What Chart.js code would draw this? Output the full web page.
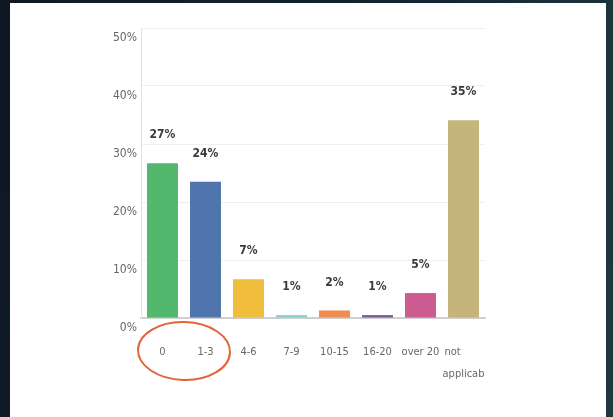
<!DOCTYPE html>
<html lang="en">
  <head>
    <meta charset="UTF-8" />
    <title>Bar chart</title>
    <script src="https://cdn.jsdelivr.net/npm/chart.js"></script>
    <style>
      html, body {
        margin: 0;
        padding: 0;
        width: 613px;
        height: 417px;
        overflow: hidden;
      }
      body {
        background: linear-gradient(100deg, #0e1822 0%, #132530 60%, #1c3a40 100%);
        position: relative;
      }
      .panel {
        position: absolute;
        left: 10px;
        top: 3px;
        width: 596px;
        height: 414px;
        background: #fff;
      }
      canvas {
        position: absolute;
        left: 0;
        top: 0;
      }
    </style>
  </head>
  <body>
    <div class="panel"></div>
    <canvas id="chart" width="613" height="417"></canvas>

    <script>
      // data
      var categories = ["0", "1-3", "4-6", "7-9", "10-15", "16-20", "over 20", ["not", "applicab"]];
      var shares = [26.7, 23.5, 6.7, 0.5, 1.3, 0.5, 4.3, 34.1];
      var shareLabels = ["27%", "24%", "7%", "1%", "2%", "1%", "5%", "35%"];
      var barColors = ["#52b86e", "#4f74ae", "#f0bd3c", "#86d0d6", "#ef8c4e", "#7b5b9b", "#cc5b8f", "#c5b57b"];

      // narrow text: the condensed faces of DejaVu Sans
      var FONT = "'DejaVu Sans', sans-serif";

      // percentage text over each bar
      var valueLabels = {
        id: "valueLabels",
        afterDatasetsDraw: function (chart) {
          var ctx = chart.ctx;
          var meta = chart.getDatasetMeta(0);
          ctx.save();
          ctx.font = "condensed bold 12px " + FONT;
          ctx.fillStyle = "#3a3a3a";
          ctx.textAlign = "center";
          ctx.textBaseline = "middle";
          meta.data.forEach(function (bar, i) {
            ctx.fillText(shareLabels[i], bar.x, bar.y - 28);
          });
          ctx.restore();
        },
      };

      // hand drawn orange ring round the first two categories
      var ring = {
        id: "ring",
        afterDraw: function (chart) {
          var x = chart.scales.x;
          var ctx = chart.ctx;
          var cx = (x.getPixelForValue(0) + x.getPixelForValue(1)) / 2;
          var cy = chart.chartArea.bottom + 33;
          ctx.save();
          ctx.strokeStyle = "#e2643a";
          ctx.lineWidth = 2;
          ctx.beginPath();
          ctx.ellipse(cx, cy, 46, 29, 0.03, 0, Math.PI * 2);
          ctx.stroke();
          ctx.restore();
        },
      };

      new Chart(document.getElementById("chart"), {
        type: "bar",
        data: {
          labels: categories,
          datasets: [
            {
              data: shares,
              backgroundColor: barColors,
              barPercentage: 0.9,
              categoryPercentage: 0.8,
            },
          ],
        },
        options: {
          responsive: false,
          animation: false,
          layout: { padding: { top: 28, right: 128, left: 0, bottom: 0 } },
          plugins: {
            legend: { display: false },
            tooltip: { enabled: false },
          },
          scales: {
            x: {
              grid: { display: false, drawTicks: false },
              border: { color: "#cfcfcf", width: 1.5 },
              ticks: {
                color: "#666",
                padding: 23,
                maxRotation: 0,
                autoSkip: false,
                font: { family: FONT, size: 11, weight: "condensed", lineHeight: 2 },
                callback: function (v, i) {
                  var c = categories[i];
                  // pad the short first line (no-break spaces) so both lines start near the same x
                  return Array.isArray(c) ? [c[0] + "\u00a0".repeat(7), c[1]] : c;
                },
              },
              afterFit: function (s) {
                s.height = 99;
              },
            },
            y: {
              min: 0,
              max: 50,
              ticks: {
                stepSize: 10,
                color: "#666",
                padding: 4,
                labelOffset: 10,
                font: { family: FONT, size: 12, weight: "condensed" },
                callback: function (v) {
                  return v + "%";
                },
              },
              grid: {
                drawTicks: false,
                color: function (c) {
                  return c.tick.value === 0 ? "#cfcfcf" : "#efefef";
                },
              },
              border: { color: "#e2e2e2" },
              afterFit: function (s) {
                s.width = 141;
              },
            },
          },
        },
        plugins: [valueLabels, ring],
      });
    </script>
  </body>
</html>
